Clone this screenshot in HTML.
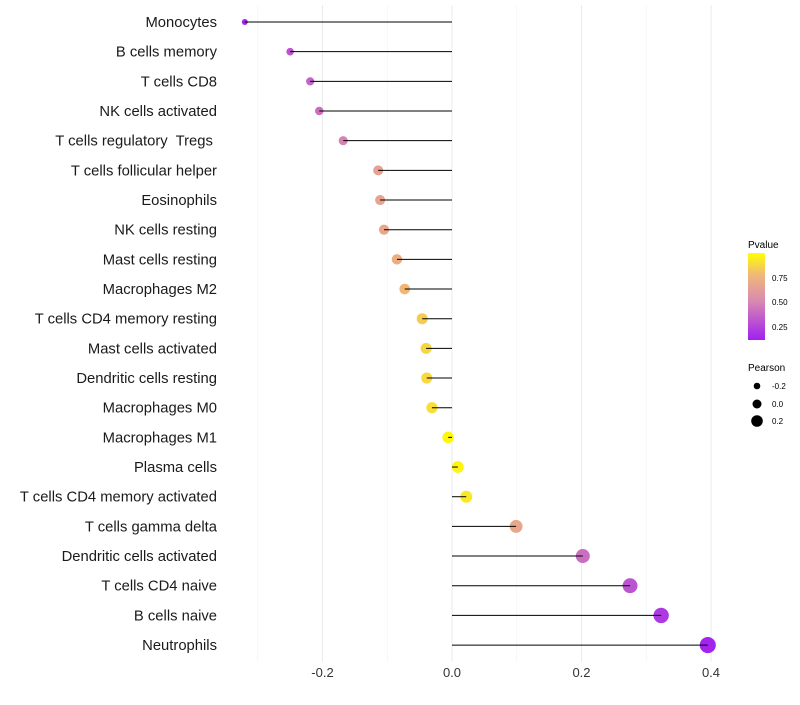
<!DOCTYPE html>
<html><head><meta charset="utf-8"><style>
body{margin:0;background:#fff;}
svg text{font-family:"Liberation Sans",sans-serif;white-space:pre;}
</style></head><body>
<svg id="chart" width="800" height="700" xmlns="http://www.w3.org/2000/svg">
<defs><linearGradient id="pg" x1="0" y1="1" x2="0" y2="0">
<stop offset="0" stop-color="#a020f0"/><stop offset="0.45" stop-color="#d98ab0"/><stop offset="0.75" stop-color="#f0b878"/><stop offset="1" stop-color="#ffff00"/></linearGradient></defs>
<g id="grid"></g><g id="points"></g><g id="marks"></g><g id="ylab"></g><g id="xlab"></g>
<g id="legend">
<text x="748" y="248" font-size="10" fill="#000">Pvalue</text>
<rect x="748" y="253" width="17" height="87" fill="url(#pg)"/>
<text x="772" y="281" font-size="8">0.75</text>
<text x="772" y="305" font-size="8">0.50</text>
<text x="772" y="330" font-size="8">0.25</text>
<text x="748" y="371" font-size="10">Pearson</text>
<circle cx="757" cy="386" r="3.3" fill="#000"/>
<circle cx="757" cy="404" r="4.5" fill="#000"/>
<circle cx="757" cy="421" r="5.8" fill="#000"/>
<text x="772" y="389" font-size="8">-0.2</text>
<text x="772" y="407" font-size="8">0.0</text>
<text x="772" y="424" font-size="8">0.2</text>
</g>
</svg>
<script>
const categories=["Monocytes","B cells memory","T cells CD8","NK cells activated","T cells regulatory  Tregs ","T cells follicular helper","Eosinophils","NK cells resting","Mast cells resting","Macrophages M2","T cells CD4 memory resting","Mast cells activated","Dendritic cells resting","Macrophages M0","Macrophages M1","Plasma cells","T cells CD4 memory activated","T cells gamma delta","Dendritic cells activated","T cells CD4 naive","B cells naive","Neutrophils"];
const pearson=[-0.32,-0.25,-0.219,-0.205,-0.168,-0.114,-0.111,-0.105,-0.085,-0.073,-0.046,-0.040,-0.039,-0.031,-0.006,0.009,0.022,0.099,0.202,0.275,0.323,0.395];
const pvalues=[0.13,0.3,0.35,0.4,0.47,0.63,0.64,0.66,0.7,0.75,0.83,0.86,0.87,0.89,0.97,0.96,0.92,0.66,0.4,0.3,0.2,0.12];
const xTicks=[-0.2,0.0,0.2,0.4];
const xMinor=[-0.3,-0.1,0.1,0.3];
const NS="http://www.w3.org/2000/svg";
const x=v=>452+v*647.5;
const y=i=>22+i*29.67;
const r=v=>1.15*Math.sqrt(Math.max(1.6,10.9+(v+0.25)*59));
function lerp(a,b,t){return a.map((c,i)=>Math.round(c+(b[i]-c)*t));}
function color(p){const stops=[[0.107,[160,32,240]],[0.5,[217,138,176]],[0.77,[242,186,112]],[0.995,[255,255,0]]];
p=Math.max(0.107,Math.min(0.995,p));for(let k=0;k<stops.length-1;k++){if(p<=stops[k+1][0]){const t=(p-stops[k][0])/(stops[k+1][0]-stops[k][0]);return "rgb("+lerp(stops[k][1],stops[k+1][1],t).join(",")+")";}}return "rgb(255,255,0)";}
function mk(tag,attrs,parent){const e=document.createElementNS(NS,tag);for(const k in attrs)e.setAttribute(k,attrs[k]);parent.appendChild(e);return e;}
const grid=document.getElementById('grid'),points=document.getElementById('points'),marks=document.getElementById('marks'),ylab=document.getElementById('ylab'),xlab=document.getElementById('xlab');
xMinor.forEach(v=>{const l=mk('line',{x1:x(v),x2:x(v),y1:5,y2:662,stroke:'#f2f2f2','stroke-width':0.6},grid);

});
xTicks.forEach(v=>{const l=mk('line',{x1:x(v),x2:x(v),y1:5,y2:662,stroke:'#ebebeb','stroke-width':1},grid);


const t=mk('text',{x:x(v),y:677,'font-size':13,fill:'#333','text-anchor':'middle'},xlab);t.textContent=v.toFixed(1);

});
categories.forEach((c,i)=>{const p=mk('circle',{cx:x(pearson[i]),cy:y(i),r:r(pearson[i]),fill:color(pvalues[i])},points);


const l=mk('line',{x1:x(0),x2:x(pearson[i]),y1:y(i),y2:y(i),stroke:'#000','stroke-width':1},marks);


const t=mk('text',{x:217,y:y(i)+5,'font-size':14.8,fill:'#1a1a1a','text-anchor':'end'},ylab);t.textContent=c;

});
</script>
</body></html>
